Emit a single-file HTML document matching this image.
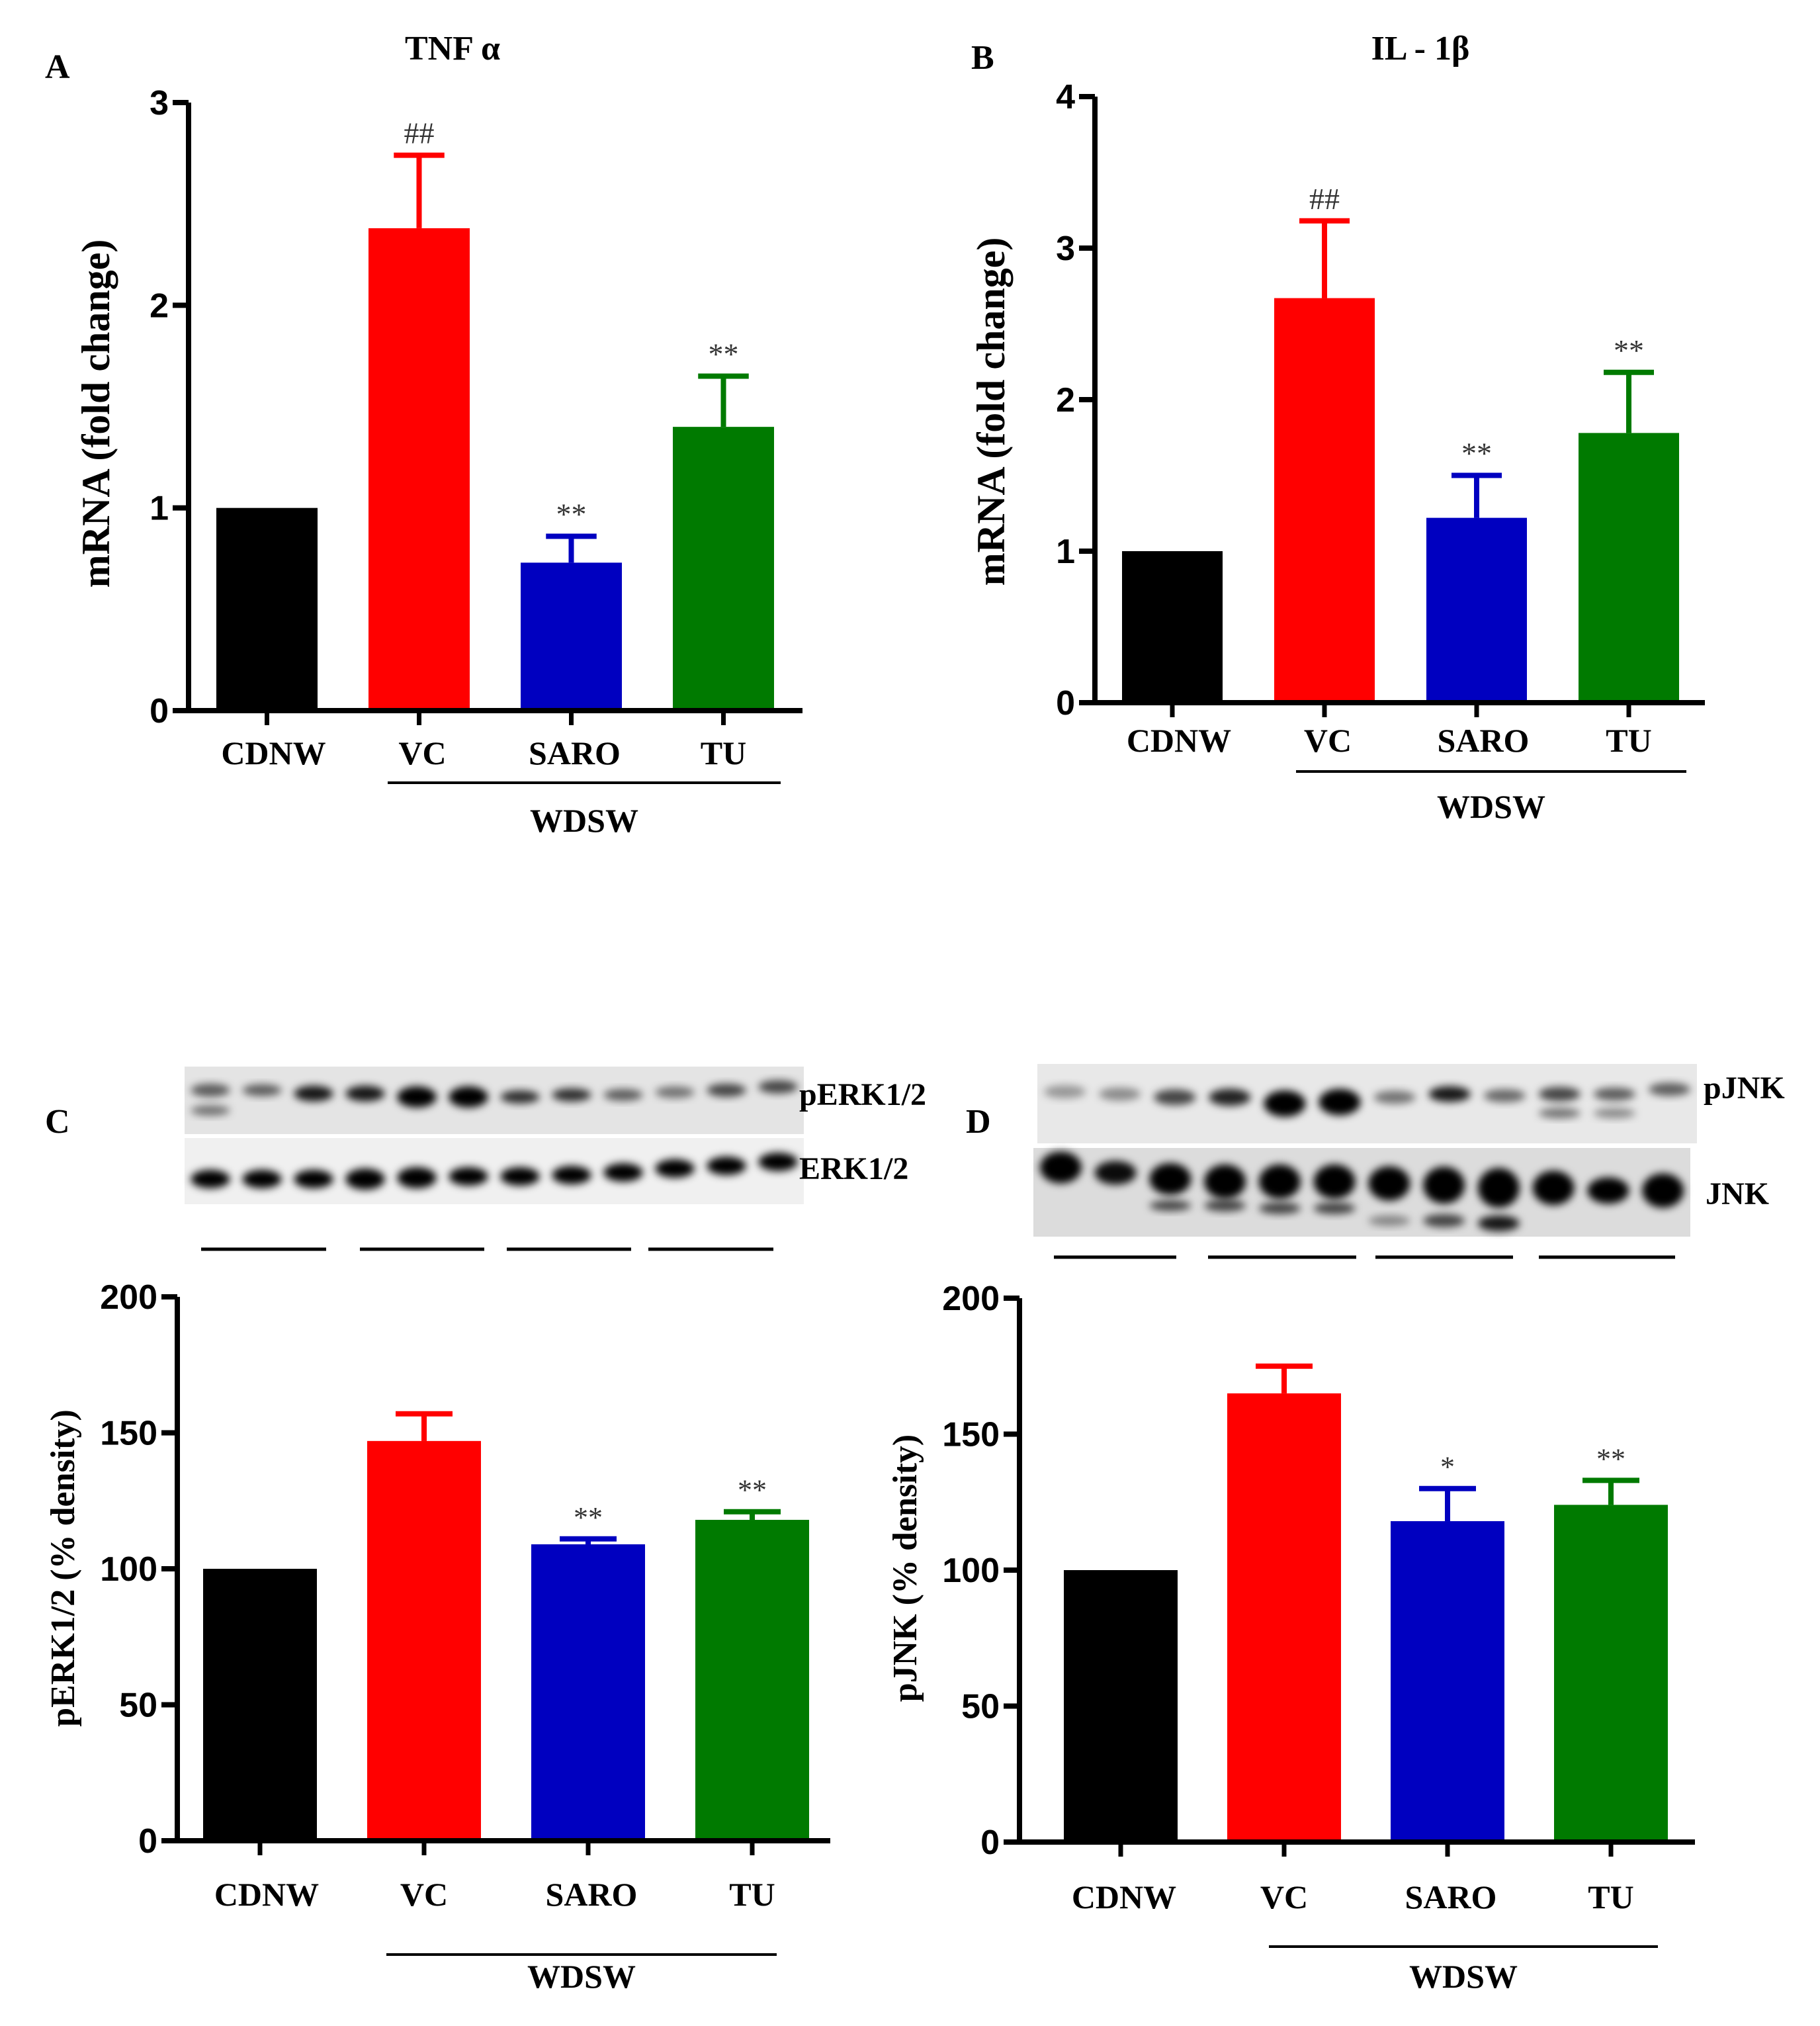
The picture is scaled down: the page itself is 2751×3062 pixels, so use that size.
<!DOCTYPE html>
<html><head><meta charset="utf-8"><style>
html,body{margin:0;padding:0;background:#fff;}
svg{display:block;}
.tk{font-family:"Liberation Sans",Arial,sans-serif;font-weight:bold;}
.sf{font-family:"Liberation Serif",serif;font-weight:bold;}
</style></head><body>
<svg id="fig" width="2751" height="3062" viewBox="0 0 2751 3062" xmlns="http://www.w3.org/2000/svg">
<defs>
<filter id="blur" x="-50%" y="-50%" width="200%" height="200%"><feGaussianBlur stdDeviation="6"/></filter>
</defs>
</svg>
<script>
const categories = ["CDNW","VC","SARO","TU"];
const colors = ["#000000","#ff0000","#0000c0","#007a00"];
// Panel A: TNF alpha
const tnfValues = [1.0, 2.38, 0.73, 1.40];
const tnfErr = [1.0, 2.74, 0.86, 1.65];
const tnfSig = ["", "##", "**", "**"];
const tnfTicks = [0,1,2,3];
// Panel B: IL-1beta
const ilValues = [1.0, 2.67, 1.22, 1.78];
const ilErr = [1.0, 3.18, 1.50, 2.18];
const ilSig = ["", "##", "**", "**"];
const ilTicks = [0,1,2,3,4];
// Panel C: pERK1/2
const erkValues = [100, 147, 109, 118];
const erkErr = [100, 157, 111, 121];
const erkSig = ["", "", "**", "**"];
const erkTicks = [0,50,100,150,200];
// Panel D: pJNK
const jnkValues = [100, 165, 118, 124];
const jnkErr = [100, 175, 130, 133];
const jnkSig = ["", "", "*", "**"];
const jnkTicks = [0,50,100,150,200];

const NS = "http://www.w3.org/2000/svg";
const svg = document.getElementById("fig");
function mk(tag, attrs, parent){
  const e = document.createElementNS(NS, tag);
  for (const k in attrs) e.setAttribute(k, attrs[k]);
  (parent||svg).appendChild(e);
  return e;
}

function panel(cfg, values, errs, sigs, ticks){
  const g = mk("g", {});
  
  
  const max = ticks[ticks.length-1];
  const y = v => cfg.y0 - (v/max)*(cfg.y0 - cfg.yTop);
  const cx = i => cfg.bx0 + cfg.bw/2 + i*cfg.step;
  values.forEach((v,i)=>{
    const r = mk("rect", {x:cx(i)-cfg.bw/2, y:y(v), width:cfg.bw, height:cfg.y0-y(v), fill:colors[i]}, g);
    
    
    if (errs[i] > v + 1e-9){
      const e = mk("path", {d:`M${cx(i)} ${y(v)} V${y(errs[i])} M${cx(i)-cfg.bw*0.25} ${y(errs[i])} H${cx(i)+cfg.bw*0.25}`, stroke:colors[i], "stroke-width":8, fill:"none"}, g);
      
      
    }
    if (sigs[i]){
      const t = mk("text", {x:cx(i), y:y(errs[i])-18, "text-anchor":"middle", "font-family":"Liberation Serif,serif", "font-size":cfg.sigSize, fill:"#333"}, g);
      t.textContent = sigs[i];
      
      
    }
    mk("line", {x1:cx(i), x2:cx(i), y1:cfg.y0, y2:cfg.y0+22, stroke:"#000","stroke-width":7}, g);
    const lab = mk("text", {x:cx(i)+cfg.labDx[i], y:cfg.labY, "text-anchor":"middle", class:"sf", "font-size":cfg.labSize}, g);
    lab.textContent = categories[i];
    
    
  });
  const ya = mk("line", {x1:cfg.ax, x2:cfg.ax, y1:cfg.yTop, y2:cfg.y0+3, stroke:"#000","stroke-width":8}, g);
  
  
  const xa = mk("line", {x1:cfg.ax-24, x2:cfg.xEnd, y1:cfg.y0, y2:cfg.y0, stroke:"#000","stroke-width":8}, g);
  
  
  ticks.forEach(t=>{
    mk("line", {x1:cfg.ax-24, x2:cfg.ax, y1:y(t), y2:y(t), stroke:"#000","stroke-width":8}, g);
    const tl = mk("text", {x:cfg.ax-30, y:y(t)+18, "text-anchor":"end", class:"tk", "font-size":cfg.tickSize}, g);
    tl.textContent = t;
    
    
  });
  const yt = mk("text", {x:0, y:0, transform:`translate(${cfg.ytx},${cfg.yty}) rotate(-90)`, "text-anchor":"middle", class:"sf", "font-size":cfg.ytSize}, g);
  yt.textContent = cfg.ytitle;
  
  
  const wl = mk("line", {x1:cfg.wx1, x2:cfg.wx2, y1:cfg.wy, y2:cfg.wy, stroke:"#000","stroke-width":4}, g);
  
  
  const wt = mk("text", {x:(cfg.wx1+cfg.wx2)/2, y:cfg.wty, "text-anchor":"middle", class:"sf", "font-size":cfg.labSize}, g);
  wt.textContent = "WDSW";
  
  
  const pl = mk("text", {x:cfg.lx, y:cfg.ly, class:"sf", "font-size":52}, g);
  pl.textContent = cfg.letter;
  
  
  if (cfg.title){
    const tt = mk("text", {x:cfg.tx, y:cfg.ty, "text-anchor":"middle", class:"sf", "font-size":52}, g);
    tt.textContent = cfg.title;
    
    
  }
}

panel({name:"panel-a-tnf", ax:285, yTop:155, y0:1074, xEnd:1213, bx0:327, bw:153, step:230,
  labY:1155, labSize:50, labDx:[10,5,5,0], tickSize:52, sigSize:46,
  ytitle:"mRNA (fold change)", ytx:165, yty:625, ytSize:60,
  wx1:586, wx2:1180, wy:1183, wty:1257, lx:68, ly:118, letter:"A", title:"TNF α", tx:684, ty:90},
  tnfValues, tnfErr, tnfSig, tnfTicks);

panel({name:"panel-b-il1b", ax:1655, yTop:146, y0:1062, xEnd:2577, bx0:1696, bw:152, step:230,
  labY:1136, labSize:50, labDx:[10,5,10,0], tickSize:52, sigSize:46,
  ytitle:"mRNA (fold change)", ytx:1518, yty:622, ytSize:60,
  wx1:1959, wx2:2549, wy:1166, wty:1236, lx:1468, ly:104, letter:"B", title:"IL - 1β", tx:2147, ty:90},
  ilValues, ilErr, ilSig, ilTicks);

panel({name:"panel-c-perk", ax:268, yTop:1960, y0:2782, xEnd:1255, bx0:307, bw:172, step:248,
  labY:2880, labSize:50, labDx:[10,0,5,0], tickSize:52, sigSize:44,
  ytitle:"pERK1/2 (% density)", ytx:112, yty:2370, ytSize:52,
  wx1:584, wx2:1174, wy:2954, wty:3004, lx:68, ly:1712, letter:"C"},
  erkValues, erkErr, erkSig, erkTicks);

panel({name:"panel-d-pjnk", ax:1541, yTop:1962, y0:2784, xEnd:2562, bx0:1608, bw:172, step:247,
  labY:2884, labSize:50, labDx:[5,0,5,0], tickSize:52, sigSize:44,
  ytitle:"pJNK (% density)", ytx:1385, yty:2370, ytSize:52,
  wx1:1918, wx2:2506, wy:2942, wty:3004, lx:1460, ly:1712, letter:"D"},
  jnkValues, jnkErr, jnkSig, jnkTicks);

function blot(name, x, y, w, h, bg, lanes, label, lx, ly){
  const g = mk("g", {});
  
  
  mk("rect", {x:x, y:y, width:w, height:h, fill:bg}, g);
  const lw = w/12;
  lanes.forEach((b,i)=>{
    b.forEach(band=>{
      mk("ellipse", {cx:x+lw*(i+0.5), cy:y+h*band[0], rx:lw*0.38, ry:band[1], fill:"#000", "fill-opacity":band[2], filter:"url(#blur)"}, g);
    });
  });
  const t = mk("text", {x:lx, y:ly, class:"sf", "font-size":48}, g);
  t.textContent = label;
  
  
}
blot("perk-blot", 279, 1612, 936, 102, "#e4e4e4",
 [[[0.35,10,0.6],[0.65,8,0.5]],[[0.35,9,0.6]],[[0.4,12,0.9]],[[0.4,12,0.9]],[[0.45,16,1]],[[0.45,16,1]],[[0.45,10,0.8]],[[0.42,10,0.8]],[[0.42,9,0.6]],[[0.38,9,0.5]],[[0.35,10,0.7]],[[0.3,10,0.7]]],
 "pERK1/2", 1208, 1670);
blot("erk-blot", 279, 1720, 936, 100, "#f0f0f0",
 [[[0.62,14,1]],[[0.62,14,1]],[[0.62,14,1]],[[0.62,16,1]],[[0.6,16,1]],[[0.58,14,1]],[[0.58,14,1]],[[0.56,14,1]],[[0.52,14,1]],[[0.46,14,1]],[[0.42,14,1]],[[0.36,14,1]]],
 "ERK1/2", 1208, 1782);
blot("pjnk-blot", 1568, 1608, 997, 120, "#e8e8e8",
 [[[0.35,10,0.35]],[[0.38,10,0.4]],[[0.42,12,0.7]],[[0.42,13,0.85]],[[0.5,20,1]],[[0.48,20,1]],[[0.42,10,0.5]],[[0.38,12,0.9]],[[0.4,10,0.55]],[[0.38,11,0.7],[0.62,8,0.5]],[[0.38,10,0.6],[0.62,8,0.4]],[[0.32,10,0.6]]],
 "pJNK", 2575, 1660);
blot("jnk-blot", 1562, 1735, 993, 134, "#dcdcdc",
 [[[0.22,24,1]],[[0.28,18,0.95]],[[0.35,24,1],[0.65,8,0.7]],[[0.38,26,1],[0.65,9,0.7]],[[0.38,26,1],[0.68,9,0.7]],[[0.38,26,1],[0.68,9,0.7]],[[0.4,26,1],[0.82,8,0.4]],[[0.42,28,1],[0.82,10,0.7]],[[0.45,30,1],[0.85,12,0.9]],[[0.45,26,1]],[[0.48,20,1]],[[0.48,26,1]]],
 "JNK", 2578, 1820);

const gl = [[304,493,1888],[544,732,1888],[766,954,1888],[980,1169,1888],[1593,1778,1900],[1826,2050,1900],[2079,2287,1900],[2326,2532,1900]];
gl.forEach(s=>{
  const l = mk("line", {x1:s[0], x2:s[1], y1:s[2], y2:s[2], stroke:"#000", "stroke-width":5});
  
  
});
</script>
</body></html>
